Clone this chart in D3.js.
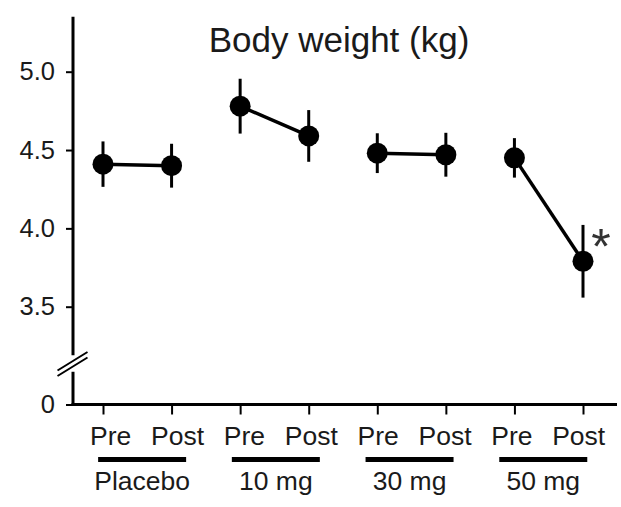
<!DOCTYPE html>
<html>
<head>
<meta charset="utf-8">
<script src="https://cdn.jsdelivr.net/npm/d3@7"></script>
<style>
  html, body { margin: 0; padding: 0; background: #fff; }
  svg { display: block; font-family: "Liberation Sans", Arial, sans-serif; }
</style>
</head>
<body>
<svg id="chart"></svg>
<script>
// data
var groups = ["Placebo", "10 mg", "30 mg", "50 mg"];
var phases = ["Pre", "Post"];
var preMean = [4.41, 4.78, 4.48, 4.45];
var postMean = [4.40, 4.59, 4.47, 3.79];
var preSem = [0.145, 0.175, 0.127, 0.126];
var postSem = [0.14, 0.165, 0.14, 0.232];
var sigMarks = ["", "", "", "*"];
var yTicks = [3.5, 4.0, 4.5, 5.0];
var yZeroTick = [0];
var title = "Body weight (kg)";

var width = 621, height = 507;
var axisX = 73, axisRight = 617, baseY = 404.5;
var yAxisTop = 5.35, yBreakVal = 3.19;
var ink = "#000", textInk = "#1a1a1a";

var svg = d3.select("#chart")
    .attr("width", width)
    .attr("height", height);

var cats = [];
groups.forEach(function(g) { phases.forEach(function(p) { cats.push(g + "|" + p); }); });

var x = d3.scalePoint().domain(cats).range([103, 583]);
// the tick texts sit on a slightly narrower spacing than the ticks
var xLab = d3.scalePoint().domain(cats).range([110.7, 578.7]);
var y = d3.scaleLinear().domain([3.5, 5.0]).range([306.7, 71.7]);
var yLow = d3.scaleLinear().domain([0, 1]).range([baseY, baseY - 60]);

// y axis (upper part, with break)
var gy = svg.append("g").attr("transform", "translate(" + axisX + ",0)")
    .call(d3.axisLeft(y).tickValues(yTicks).tickSize(7).tickPadding(11)
        .tickFormat(d3.format(".1f")));
var gy0 = svg.append("g").attr("transform", "translate(" + axisX + ",0)")
    .call(d3.axisLeft(yLow).tickValues(yZeroTick).tickSize(7).tickPadding(11)
        .tickFormat(d3.format("d")));
[gy, gy0].forEach(function(g) {
    g.select(".domain").remove();
    g.selectAll(".tick line").attr("stroke", ink).attr("stroke-width", 2);
    g.selectAll(".tick text").attr("fill", textInk)
        .style("font-size", "25.5px").style("font-family", "Liberation Sans, Arial, sans-serif");
});

var breakTop = y(yBreakVal), breakBot = breakTop + 16.5;
svg.append("line")
    .attr("x1", axisX).attr("x2", axisX)
    .attr("y1", y(yAxisTop)).attr("y2", breakTop)
    .attr("stroke", ink).attr("stroke-width", 3);
svg.append("line")
    .attr("x1", axisX).attr("x2", axisX)
    .attr("y1", breakBot).attr("y2", baseY + 1.5)
    .attr("stroke", ink).attr("stroke-width", 3);
[0, 5.5].forEach(function(off) {
    var cy = (breakTop + breakBot) / 2 - 2.5 + off;
    svg.append("line")
        .attr("x1", axisX - 15.5).attr("y1", cy + 9.5)
        .attr("x2", axisX + 14.5).attr("y2", cy - 9)
        .attr("stroke", ink).attr("stroke-width", 2);
});

// x axis
var gx = svg.append("g").attr("transform", "translate(0," + baseY + ")")
    .call(d3.axisBottom(x).tickSize(10).tickFormat(""));
gx.select(".domain").remove();
gx.selectAll(".tick line").attr("stroke", ink).attr("stroke-width", 2);
svg.append("line")
    .attr("x1", axisX - 1.5).attr("x2", axisRight)
    .attr("y1", baseY).attr("y2", baseY)
    .attr("stroke", ink).attr("stroke-width", 3);

svg.selectAll(".phaseLabel")
    .data(cats)
    .enter().append("text")
    .attr("class", "phaseLabel")
    .attr("x", function(d) { return xLab(d); })
    .attr("y", 445)
    .attr("text-anchor", "middle")
    .style("font-size", "26.5px")
    .attr("fill", textInk)
    .text(function(d) { return d.split("|")[1]; });

var groupCenter = function(g) {
    return (xLab(g + "|Pre") + xLab(g + "|Post")) / 2;
};
svg.selectAll(".groupBar")
    .data(groups)
    .enter().append("line")
    .attr("class", "groupBar")
    .attr("x1", function(d) { return groupCenter(d) - 46; })
    .attr("x2", function(d) { return groupCenter(d) + 42; })
    .attr("y1", 459.5).attr("y2", 459.5)
    .attr("stroke", ink).attr("stroke-width", 5);
svg.selectAll(".groupLabel")
    .data(groups)
    .enter().append("text")
    .attr("class", "groupLabel")
    .attr("x", function(d) { return groupCenter(d) - 2; })
    .attr("y", 490)
    .attr("text-anchor", "middle")
    .style("font-size", "26.5px")
    .attr("fill", textInk)
    .text(function(d) { return d; });

// data marks
var pts = [];
groups.forEach(function(g, i) {
    pts.push({ key: g + "|Pre", m: preMean[i], s: preSem[i] });
    pts.push({ key: g + "|Post", m: postMean[i], s: postSem[i] });
});

svg.selectAll(".pairLine")
    .data(groups)
    .enter().append("line")
    .attr("class", "pairLine")
    .attr("x1", function(d) { return x(d + "|Pre"); })
    .attr("y1", function(d, i) { return y(preMean[i]); })
    .attr("x2", function(d) { return x(d + "|Post"); })
    .attr("y2", function(d, i) { return y(postMean[i]); })
    .attr("stroke", ink).attr("stroke-width", 3.5);

svg.selectAll(".errBar")
    .data(pts)
    .enter().append("line")
    .attr("class", "errBar")
    .attr("x1", function(d) { return x(d.key); })
    .attr("x2", function(d) { return x(d.key); })
    .attr("y1", function(d) { return y(d.m + d.s); })
    .attr("y2", function(d) { return y(d.m - d.s); })
    .attr("stroke", ink).attr("stroke-width", 3);

svg.selectAll(".dot")
    .data(pts)
    .enter().append("circle")
    .attr("class", "dot")
    .attr("cx", function(d) { return x(d.key); })
    .attr("cy", function(d) { return y(d.m); })
    .attr("r", 10.5)
    .attr("fill", ink);

svg.selectAll(".sig")
    .data(groups)
    .enter().append("text")
    .attr("class", "sig")
    .attr("x", function(d) { return x(d + "|Post") + 18; })
    .attr("y", function(d, i) { return y(postMean[i]) + 3; })
    .attr("text-anchor", "middle")
    .style("font-size", "50px")
    .attr("fill", "#333")
    .text(function(d, i) { return sigMarks[i]; });

svg.append("text")
    .attr("x", 339)
    .attr("y", 52)
    .attr("text-anchor", "middle")
    .style("font-size", "35px")
    .attr("fill", textInk)
    .text(title);
</script>
</body>
</html>
